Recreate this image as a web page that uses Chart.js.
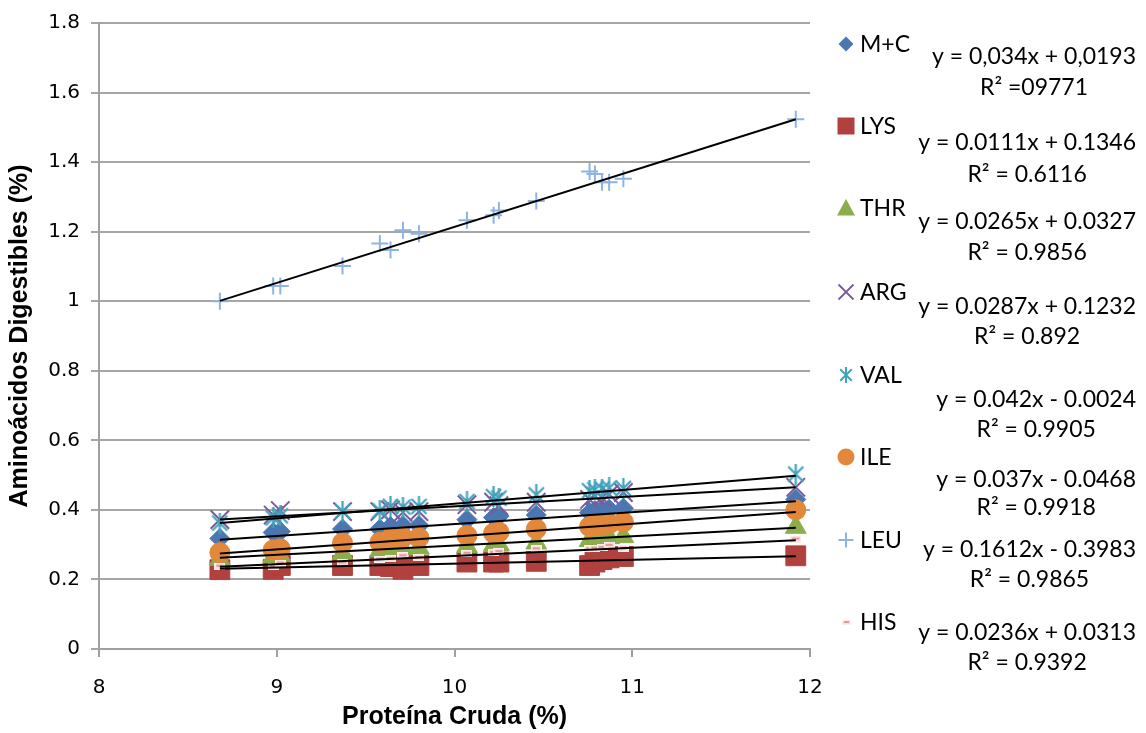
<!DOCTYPE html>
<html>
<head>
<meta charset="utf-8">
<style>
  html, body { margin: 0; padding: 0; background: #ffffff; }
  #wrap { width: 1146px; height: 733px; }
</style>
<script src="https://cdn.jsdelivr.net/npm/chart.js@4/dist/chart.umd.min.js"></script>
</head>
<body>
<div id="wrap"><canvas id="c" width="1146" height="733"></canvas></div>
<script>
// Crude protein of each sample (%)
const proteina = [8.68, 8.98, 9.02, 9.37, 9.58, 9.64, 9.71, 9.80, 10.07, 10.22, 10.25, 10.46, 10.76, 10.79, 10.83, 10.87, 10.95, 11.92];

// Digestible amino acids (%) per sample
const mc  = [0.318, 0.335, 0.338, 0.345, 0.345, 0.352, 0.355, 0.355, 0.372, 0.378, 0.382, 0.385, 0.392, 0.398, 0.400, 0.402, 0.405, 0.430];
const lys = [0.228, 0.229, 0.240, 0.240, 0.240, 0.237, 0.229, 0.240, 0.250, 0.250, 0.250, 0.252, 0.240, 0.250, 0.257, 0.262, 0.266, 0.268];
const thr = [0.258, 0.265, 0.268, 0.275, 0.282, 0.286, 0.288, 0.290, 0.295, 0.298, 0.300, 0.305, 0.312, 0.315, 0.318, 0.320, 0.323, 0.350];
const arg = [0.372, 0.385, 0.398, 0.395, 0.395, 0.400, 0.393, 0.395, 0.415, 0.422, 0.412, 0.422, 0.430, 0.440, 0.435, 0.445, 0.450, 0.465];
const val = [0.362, 0.377, 0.383, 0.396, 0.398, 0.410, 0.408, 0.410, 0.424, 0.438, 0.434, 0.443, 0.455, 0.458, 0.460, 0.463, 0.462, 0.503];
const ile = [0.277, 0.285, 0.288, 0.305, 0.307, 0.318, 0.321, 0.320, 0.326, 0.333, 0.336, 0.345, 0.352, 0.356, 0.357, 0.360, 0.365, 0.400];
const leu = [1.000, 1.044, 1.044, 1.101, 1.166, 1.147, 1.204, 1.194, 1.233, 1.247, 1.261, 1.288, 1.373, 1.366, 1.342, 1.342, 1.352, 1.523];
const his = [0.238, 0.237, 0.247, 0.248, 0.258, 0.260, 0.268, 0.263, 0.275, 0.278, 0.280, 0.288, 0.288, 0.290, 0.292, 0.298, 0.290, 0.316];

const seriesNames = ['M+C', 'LYS', 'THR', 'ARG', 'VAL', 'ILE', 'LEU', 'HIS'];
const seriesValues = [mc, lys, thr, arg, val, ile, leu, his];

// Linear trend lines: y = slope * x + intercept
const slopes     = [0.034, 0.0111, 0.0265, 0.0287, 0.042, 0.037, 0.1612, 0.0236];
const intercepts = [0.0193, 0.1346, 0.0327, 0.1232, -0.0024, -0.0468, -0.3983, 0.0313];
const eqLabels = ['y = 0,034x + 0,0193', 'y = 0.0111x + 0.1346', 'y = 0.0265x + 0.0327', 'y = 0.0287x + 0.1232',
                  'y = 0.042x - 0.0024', 'y = 0.037x - 0.0468', 'y = 0.1612x - 0.3983', 'y = 0.0236x + 0.0313'];
const r2Labels = ['R\u00b2 =09771', 'R\u00b2 = 0.6116', 'R\u00b2 = 0.9856', 'R\u00b2 = 0.892',
                  'R\u00b2 = 0.9905', 'R\u00b2 = 0.9918', 'R\u00b2 = 0.9865', 'R\u00b2 = 0.9392'];

const xTickLabels = ['8', '9', '10', '11', '12'];
const yTickLabels = ['0', '0.2', '0.4', '0.6', '0.8', '1', '1.2', '1.4', '1.6', '1.8'];

// ---- marker appearance ----
const colors = ['#4a77b2', '#b0413e', '#8cad4c', '#7a5b9b', '#40a3bd', '#e3883a', '#8db4e2', '#e8a9a8'];

function asterisk(size, color, lw) {
  const c = document.createElement('canvas');
  c.width = size; c.height = size;
  const g = c.getContext('2d');
  g.strokeStyle = color; g.lineWidth = lw; g.lineCap = 'butt';
  const m = size / 2, d = size * 0.36, v = size * 0.5;
  g.beginPath();
  g.moveTo(m - d, m - d); g.lineTo(m + d, m + d);
  g.moveTo(m + d, m - d); g.lineTo(m - d, m + d);
  g.moveTo(m, m - v); g.lineTo(m, m + v);
  g.stroke();
  return c;
}
function dash(w, h) {
  const c = document.createElement('canvas');
  c.width = w; c.height = h;
  const g = c.getContext('2d');
  g.fillStyle = '#f6dcdc';
  g.fillRect(0, 0, w, h);
  g.strokeStyle = '#f9eeee'; g.lineWidth = 1;
  g.strokeRect(0.5, 0.5, w - 1, h - 1);
  g.fillStyle = '#e49a99';
  g.fillRect(2, Math.floor(h / 2) - 1, w - 4, 2);
  return c;
}
const valMarker = asterisk(21, colors[4], 2.2);
const hisMarker = dash(11, 7);
const valLegend = asterisk(16, colors[4], 2);
const hisLegend = dash(9, 5);

const markerStyles = [
  { pointStyle: 'rectRot',  pointRadius: 10, borderWidth: 1 },
  { pointStyle: 'rect',     pointRadius: 14, borderWidth: 1 },
  { pointStyle: 'triangle', pointRadius: 12, borderWidth: 1 },
  { pointStyle: 'crossRot', pointRadius: 13, borderWidth: 2 },
  { pointStyle: valMarker,  pointRadius: 10, borderWidth: 0 },
  { pointStyle: 'circle',   pointRadius: 10, borderWidth: 1 },
  { pointStyle: 'cross',    pointRadius: 8.5, borderWidth: 2 },
  { pointStyle: hisMarker,  pointRadius: 5, borderWidth: 0 }
];
// later series sit on top of earlier ones, trend lines on top of all
const pointDatasets = seriesValues.map((vals, i) => Object.assign({
  type: 'scatter',
  label: seriesNames[i],
  data: proteina.map((x, j) => ({ x: x, y: vals[j] })),
  backgroundColor: colors[i],
  borderColor: colors[i],
  order: 20 - i
}, markerStyles[i]));

const xMin = Math.min.apply(null, proteina);
const xMax = Math.max.apply(null, proteina);
const trendDatasets = slopes.map((m, i) => ({
  type: 'scatter',
  label: 'trend ' + seriesNames[i],
  data: [{ x: xMin, y: m * xMin + intercepts[i] }, { x: xMax, y: m * xMax + intercepts[i] }],
  showLine: true,
  borderColor: '#000000',
  borderWidth: 2,
  pointRadius: 0,
  fill: false,
  order: 1
}));

// ---- legend and equation block on the right ----
const legendRowY = [44, 126, 208, 292, 375, 457, 540, 622];
const eqRowY     = [57, 143, 222, 307, 400, 480, 550, 633];
const r2RowY     = [88, 175, 253, 337, 430, 508, 580, 663];

function legendSymbol(ctx, i, x, y) {
  const col = colors[i];
  ctx.save();
  ctx.fillStyle = col; ctx.strokeStyle = col; ctx.lineWidth = 2;
  ctx.beginPath();
  if (i === 0) {
    const r = 7.5;
    ctx.moveTo(x, y - r); ctx.lineTo(x + r, y); ctx.lineTo(x, y + r); ctx.lineTo(x - r, y); ctx.closePath(); ctx.fill();
  } else if (i === 1) {
    ctx.fillRect(x - 8.5, y - 8.5, 17, 17);
  } else if (i === 2) {
    ctx.moveTo(x, y - 9); ctx.lineTo(x + 9, y + 7.5); ctx.lineTo(x - 9, y + 7.5); ctx.closePath(); ctx.fill();
  } else if (i === 3) {
    const d = 7.5;
    ctx.lineWidth = 1.8;
    ctx.moveTo(x - d, y - d); ctx.lineTo(x + d, y + d); ctx.moveTo(x + d, y - d); ctx.lineTo(x - d, y + d); ctx.stroke();
  } else if (i === 4) {
    ctx.drawImage(valLegend, x - 8, y - 8);
  } else if (i === 5) {
    ctx.arc(x, y, 8.5, 0, Math.PI * 2); ctx.fill();
  } else if (i === 6) {
    const d = 7.5;
    ctx.moveTo(x - d, y); ctx.lineTo(x + d, y); ctx.moveTo(x, y - d); ctx.lineTo(x, y + d); ctx.stroke();
  } else {
    ctx.drawImage(hisLegend, x - 4, y - 2);
  }
  ctx.restore();
}

const sidePanel = {
  id: 'sidePanel',
  afterDraw(chart) {
    const ctx = chart.ctx;
    ctx.save();
    ctx.fillStyle = '#000000';
    ctx.font = '23px Lato, "Open Sans", sans-serif';
    ctx.textBaseline = 'middle';
    seriesNames.forEach((name, i) => {
      legendSymbol(ctx, i, 846, legendRowY[i]);
      ctx.textAlign = 'left';
      ctx.fillText(name, 860, legendRowY[i] + 1);
      const w = ctx.measureText(eqLabels[i]).width;
      const cx = 1136 - w / 2;
      ctx.textAlign = 'center';
      ctx.fillText(eqLabels[i], cx, eqRowY[i]);
      ctx.fillText(r2Labels[i], cx, r2RowY[i]);
    });
    ctx.restore();
  }
};

const tickFont = { family: '"DejaVu Sans", Verdana, sans-serif', size: 20 };
const titleFont = { family: '"Liberation Sans", Arial, sans-serif', size: 25, weight: 'bold' };

new Chart(document.getElementById('c'), {
  type: 'scatter',
  data: { datasets: pointDatasets.concat(trendDatasets) },
  options: {
    responsive: false,
    animation: false,
    events: [],
    layout: { padding: { left: 0, top: 20, right: 336, bottom: 0 } },
    plugins: { legend: { display: false }, tooltip: { enabled: false } },
    scales: {
      x: {
        type: 'linear',
        min: 8, max: 12,
        afterFit(s) { s.height = 84; },
        afterBuildTicks(s) { s.ticks = xTickLabels.map(t => ({ value: Number(t) })); },
        ticks: { callback: (v, i) => xTickLabels[i], font: tickFont, color: '#000000', padding: 19, maxRotation: 0, autoSkip: false },
        grid: { drawOnChartArea: false, drawTicks: true, tickLength: 8, color: '#a0a0a0', lineWidth: 2 },
        border: { display: true, color: '#a0a0a0', width: 2 },
        title: { display: true, text: 'Proteína Cruda (%)', font: titleFont, color: '#000000', padding: { top: 0, bottom: 1 } }
      },
      y: {
        type: 'linear',
        min: 0, max: 1.8,
        afterFit(s) { s.width = 99; },
        afterBuildTicks(s) { s.ticks = yTickLabels.map(t => ({ value: Number(t) })); },
        ticks: { callback: (v, i) => yTickLabels[i], font: tickFont, color: '#000000', padding: 11, autoSkip: false },
        grid: { drawTicks: true, tickLength: 8, color: '#a6a6a6', lineWidth: 2 },
        border: { display: true, color: '#a0a0a0', width: 2 },
        title: { display: true, text: 'Aminoácidos Digestibles (%)', font: titleFont, color: '#000000', padding: { top: 5, bottom: 0 } }
      }
    }
  },
  plugins: [sidePanel]
});
</script>
</body>
</html>
